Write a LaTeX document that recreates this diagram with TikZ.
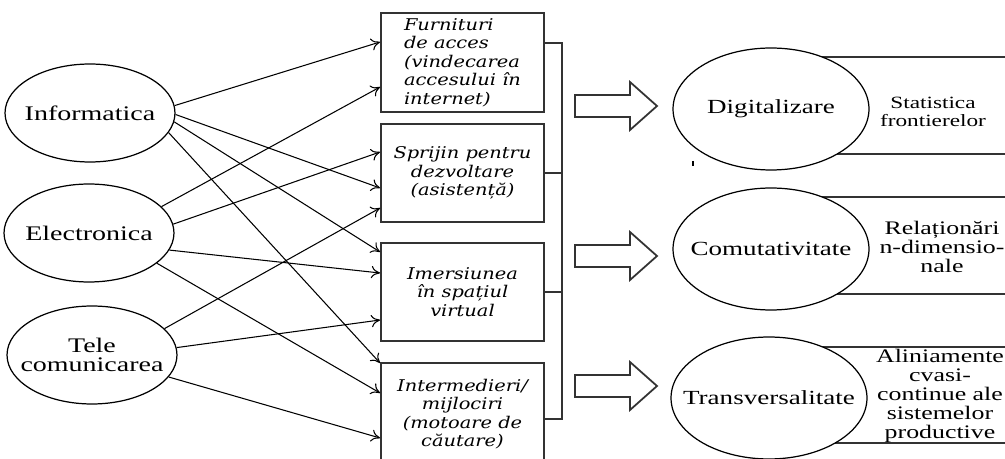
\documentclass[tikz,border=0pt]{standalone}
\usepackage{fontspec}
\setmainfont{Liberation Serif}[FakeStretch=1.35]
\newfontfamily\boxfont{DejaVu Serif}[FakeStretch=1.2]
\usetikzlibrary{shapes.geometric,arrows.meta}

\begin{document}
\begin{tikzpicture}[x=0.02cm,y=-0.02cm,
  field/.style={ellipse,draw,line width=0.7pt,minimum width=3.4cm,minimum height=1.96cm,
    inner xsep=-0.6cm,inner ysep=0pt,align=center,font=\fontsize{11.8}{10.5}\selectfont},
  effect/.style={field,fill=white,minimum width=3.92cm,minimum height=2.44cm,
    font=\fontsize{11.4}{10.5}\selectfont},
  service/.style={rectangle,draw=black!80,line width=1.1pt,minimum width=3.26cm,
    minimum height=1.96cm,align=center,font=\boxfont\itshape\fontsize{9.2}{10.5}\selectfont},
  link/.style={-{To[length=5pt,width=7pt]},line width=0.6pt},
  frame/.style={draw=black!80,line width=1pt},
  note/.style={align=center,font=\fontsize{10.9}{10.8}\selectfont}]
\clip (0,0) rectangle (1005,459);

% sources
\node[field] (inf) at (90,113) {Informatica};
\node[field] (elec) at (89,233) {Electronica};
\node[field] (tele) at (92,355) {Tele\\comunicarea};

% services
\node[service,align=left] (b1) at (462.5,62.5) {Furnituri\\de acces\\(vindecarea\\accesului în\\internet)};
\node[service] (b2) at (462.5,173) {Sprijin pentru\\dezvoltare\\(asistență)};
\node[service] (b3) at (462.5,292) {Imersiunea\\în spațiul\\virtual};
\node[service,minimum height=2.04cm] (b4) at (462.5,414) {Intermedieri/\\mijlociri\\(motoare de\\căutare)};

% links
\draw[link] (inf.5) -- (b1.west |- 0,42);
\draw[link] (inf.-1) -- (b2.west |- 0,188);
\draw[link] (inf.-6) -- (b3.west |- 0,252);
\draw[link] (inf.-14) -- (b4.west |- 0,363);
\draw[link] (elec.20) -- (b1.west |- 0,87);
\draw[link] (elec.6) -- (b2.west |- 0,152);
\draw[link] (elec.-12) -- (b3.west |- 0,273);
\draw[link] (elec.-24) -- (b4.west |- 0,393);
\draw[link] (tele.20) -- (b2.west |- 0,208);
\draw[link] (tele.5) -- (b3.west |- 0,320);
\draw[link] (tele.-16) -- (b4.west |- 0,438);

% bracket
\coordinate (bt) at (562,43);
\coordinate (bb) at (562,419);
\draw[frame] (b1.east |- bt) -- (bt) -- (bb) -- (b4.east |- bb);
\draw[frame] (b2.east) -- (b2.east -| bt);
\draw[frame] (b3.east) -- (b3.east -| bt);

% block arrows
\foreach \y in {106,256,386}
  \draw[frame,line join=miter] (575,\y-11) -- (630,\y-11) -- (630,\y-24) -- (657,\y)
    -- (630,\y+24) -- (630,\y+11) -- (575,\y+11) -- cycle;

% result frames
\draw[frame] (771,57) -- (1010,57) (771,154) -- (1010,154);
\draw[frame] (771,197) -- (1010,197) (771,294) -- (1010,294);
\draw[frame] (771,347) -- (1010,347) (771,443) -- (1010,443);

\node[effect] (dig) at (771,109) {Digitalizare};
\node[effect] (com) at (771,249) {Comutativitate};
\node[effect] (trans) at (769,398) {Transversalitate};
\draw[line width=0.8pt] (693,161) -- (693,166);

\node[note,font=\fontsize{9.8}{10.5}\selectfont] (stat) at (933,112) {Statistica\\frontierelor};
\node[note] (rel) at (942,247) {Relaționări\\n-dimensio-\\nale};
\node[note] (alin) at (940,396) {Aliniamente\\cvasi-\\continue ale\\sistemelor\\productive};
\end{tikzpicture}
\end{document}
